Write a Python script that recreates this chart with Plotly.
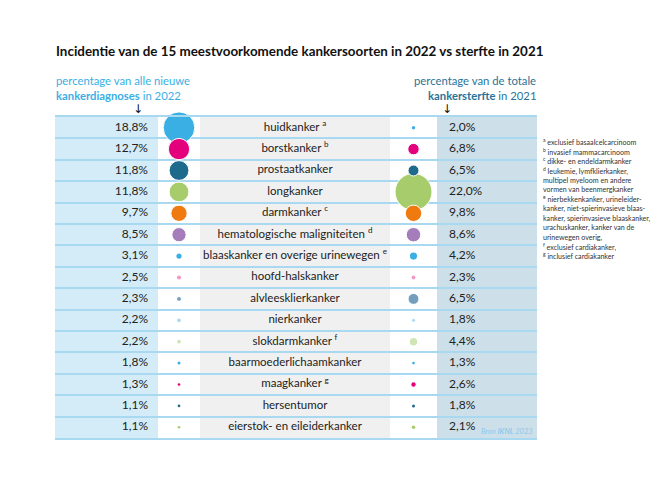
import plotly.graph_objects as go

# ---------------- data ----------------
cancer_types = [
    "huidkanker", "borstkanker", "prostaatkanker", "longkanker", "darmkanker",
    "hematologische maligniteiten", "blaaskanker en overige urinewegen",
    "hoofd-halskanker", "alvleesklierkanker", "nierkanker", "slokdarmkanker",
    "baarmoederlichaamkanker", "maagkanker", "hersentumor",
    "eierstok- en eileiderkanker",
]
footnote_marks = ["a", "b", "", "", "c", "d", "e", "", "", "", "f", "", "g", "", ""]
incidence_2022 = [18.8, 12.7, 11.8, 11.8, 9.7, 8.5, 3.1, 2.5, 2.3, 2.2, 2.2, 1.8, 1.3, 1.1, 1.1]
mortality_2021 = [2.0, 6.8, 6.5, 22.0, 9.8, 8.6, 4.2, 2.3, 6.5, 1.8, 4.4, 1.3, 2.6, 1.8, 2.1]
circle_colors = [
    "#3aafe4", "#e4007c", "#1e6a8d", "#a6cc6c", "#ef7b10", "#a47dba",
    "#3aafe4", "#f39ac6", "#739fbd", "#a9daf2", "#cfe5b3", "#3aafe4",
    "#e4007c", "#1e6a8d", "#a6cc6c",
]
footnotes = [
    ("a", "exclusief basaalcelcarcinoom"),
    ("b", "invasief mammacarcinoom"),
    ("c", "dikke- en endeldarmkanker"),
    ("d", "leukemie, lymfklierkanker,"),
    ("", "multipel myeloom en andere"),
    ("", "vormen van beenmergkanker"),
    ("e", "nierbekkenkanker, urineleider-"),
    ("", "kanker, niet-spierinvasieve blaas-"),
    ("", "kanker, spierinvasieve blaaskanker,"),
    ("", "urachuskanker, kanker van de"),
    ("", "urinewegen overig,"),
    ("f", "exclusief cardiakanker,"),
    ("g", "inclusief cardiakanker"),
]
title_text = "Incidentie van de 15 meestvoorkomende kankersoorten in 2022 vs sterfte in 2021"

# ---------------- layout constants (window pixel coordinates) ----------------
WIN_W, WIN_H = 667, 503
OFF = 8                      # default page body margin
FIG_W, FIG_H = WIN_W - 2 * OFF, WIN_H - 2 * OFF
PLOT_L, PLOT_R, PLOT_T, PLOT_B = 55, 537, 117, 438
LEFT_COL_END = 158
GRAY_START, GRAY_END = 200, 390
RIGHT_COL_START = 437
LEFT_PCT_X = 148
LEFT_CIRCLE_X = 179
LABEL_X = 295
RIGHT_CIRCLE_X = 413.5
RIGHT_PCT_X = 449
SIZE_SCALE = 1.68
FONT = "Lato, 'Open Sans', sans-serif"
LINE_COLOR = "#a9d8f1"
LEFT_BLUE = "#3aafe4"
RIGHT_BLUE = "#2a7398"


def pxx(px):
    return (px - PLOT_L) / (PLOT_R - PLOT_L)


def pyy(py):
    return (PLOT_B - py) / (PLOT_B - PLOT_T)


def fmt(v):
    return f"{v:.1f}".replace(".", ",") + "%"


labels = [f"{n} <sup>{m}</sup>" if m else n for n, m in zip(cancer_types, footnote_marks)]

fig = go.Figure()

# percentages
fig.add_trace(go.Scatter(
    x=[LEFT_PCT_X] * len(cancer_types), y=cancer_types, mode="text",
    text=[fmt(v) for v in incidence_2022], textposition="middle left",
    textfont=dict(family=FONT, size=12, color="#222"), hoverinfo="skip",
    cliponaxis=False,
))
fig.add_trace(go.Scatter(
    x=[RIGHT_PCT_X] * len(cancer_types), y=cancer_types, mode="text",
    text=[fmt(v) for v in mortality_2021], textposition="middle right",
    textfont=dict(family=FONT, size=12, color="#222"), hoverinfo="skip",
    cliponaxis=False,
))
# labels
fig.add_trace(go.Scatter(
    x=[LABEL_X] * len(cancer_types), y=cancer_types, mode="text",
    text=labels, textposition="middle center",
    textfont=dict(family=FONT, size=11.5, color="#222"), hoverinfo="skip",
    cliponaxis=False,
))

# circles (largest drawn first)
for cx, vals in ((LEFT_CIRCLE_X, incidence_2022), (RIGHT_CIRCLE_X, mortality_2021)):
    order = sorted(range(len(vals)), key=lambda i: -vals[i])
    sizes = [max(vals[i] * SIZE_SCALE, 2.6) for i in order]
    fig.add_trace(go.Scatter(
        x=[cx] * len(order), y=[cancer_types[i] for i in order], mode="markers",
        marker=dict(size=sizes,
                    color=[circle_colors[i] for i in order],
                    line=dict(color="white", width=[1 if s > 9 else 0 for s in sizes]),
                    opacity=1),
        hoverinfo="skip", cliponaxis=False,
    ))

shapes = [
    dict(type="rect", xref="x", yref="paper", x0=PLOT_L, x1=LEFT_COL_END, y0=0, y1=1,
         fillcolor="#d4ecf8", line=dict(width=0), layer="below"),
    dict(type="rect", xref="x", yref="paper", x0=GRAY_START, x1=GRAY_END, y0=0, y1=1,
         fillcolor="#f0f0f0", line=dict(width=0), layer="below"),
    dict(type="rect", xref="x", yref="paper", x0=RIGHT_COL_START, x1=PLOT_R, y0=0, y1=1,
         fillcolor="#cddfe8", line=dict(width=0), layer="below"),
]

ann = []
ann.append(dict(text=f"<b>{title_text}</b>", x=pxx(54), y=pyy(50.5), xref="paper", yref="paper",
                xanchor="left", yanchor="middle", showarrow=False,
                font=dict(family=FONT, size=13.4, color="#111")))
ann.append(dict(text="percentage van alle nieuwe", x=pxx(54), y=pyy(80.5), xref="paper", yref="paper",
                xanchor="left", yanchor="middle", showarrow=False,
                font=dict(family=FONT, size=11.3, color=LEFT_BLUE)))
ann.append(dict(text="<b>kankerdiagnoses</b> in 2022", x=pxx(54), y=pyy(95), xref="paper", yref="paper",
                xanchor="left", yanchor="middle", showarrow=False,
                font=dict(family=FONT, size=11.3, color=LEFT_BLUE)))
ann.append(dict(text="percentage van de totale", x=pxx(538), y=pyy(80.5), xref="paper", yref="paper",
                xanchor="right", yanchor="middle", showarrow=False,
                font=dict(family=FONT, size=11.3, color=RIGHT_BLUE)))
ann.append(dict(text="<b>kankersterfte</b> in 2021", x=pxx(538), y=pyy(95), xref="paper", yref="paper",
                xanchor="right", yanchor="middle", showarrow=False,
                font=dict(family=FONT, size=11.3, color=RIGHT_BLUE)))
for ax_ in (138, 447):
    ann.append(dict(text="↓", x=pxx(ax_), y=pyy(109.5), xref="paper", yref="paper",
                    xanchor="center", yanchor="middle", showarrow=False,
                    font=dict(family="DejaVu Sans", size=12, color="#111")))
for i, (m, t) in enumerate(footnotes):
    txt = (f"<sup>{m}</sup> " if m else "") + t
    ann.append(dict(text=txt, x=pxx(541), y=pyy(142 + 9.5 * i), xref="paper", yref="paper",
                    xanchor="left", yanchor="middle", showarrow=False,
                    font=dict(family=FONT, size=7.1, color="#333")))
ann.append(dict(text="<i>Bron <b>IKNL</b> 2023</i>", x=pxx(535), y=pyy(431), xref="paper", yref="paper",
                xanchor="right", yanchor="middle", showarrow=False,
                font=dict(family=FONT, size=7.5, color="#8ccbee")))

fig.update_layout(
    width=FIG_W, height=FIG_H, autosize=False,
    margin=dict(l=PLOT_L - OFF, r=(FIG_W + OFF) - PLOT_R, t=PLOT_T - OFF,
                b=(FIG_H + OFF) - PLOT_B, pad=0),
    paper_bgcolor="white", plot_bgcolor="white",
    showlegend=False, shapes=shapes, annotations=ann,
    xaxis=dict(range=[PLOT_L, PLOT_R], showgrid=False, zeroline=False, showticklabels=False,
               ticks="", showline=True, mirror=True, linecolor=LINE_COLOR, linewidth=1.5,
               fixedrange=True),
    yaxis=dict(type="category", categoryorder="array", categoryarray=cancer_types,
               range=[len(cancer_types) - 0.5, -0.5], tickson="boundaries",
               showgrid=True, gridcolor=LINE_COLOR, gridwidth=1.5, zeroline=False,
               showticklabels=False, ticks="", showline=False, fixedrange=True),
)

fig.write_html("out.html", config={"displayModeBar": False})
